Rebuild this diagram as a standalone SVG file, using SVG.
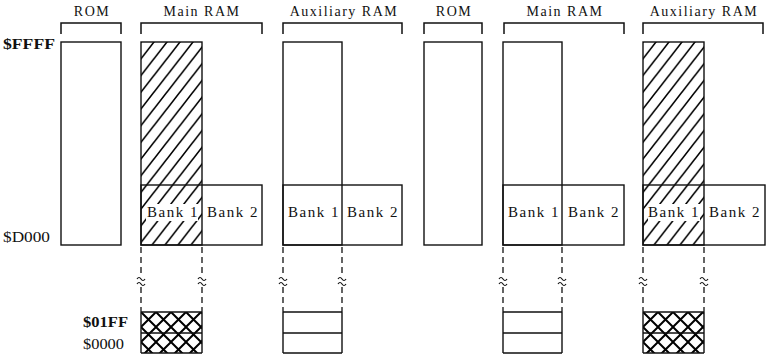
<svg xmlns="http://www.w3.org/2000/svg" width="766" height="356" viewBox="0 0 766 356">
<style>
text{font-family:"Liberation Serif","Times New Roman",serif;fill:#111}
.hd{font-size:14px;letter-spacing:1.5px;text-anchor:middle}
.bk{font-size:15px;letter-spacing:1.5px;text-anchor:middle}
.ad{font-size:14px}
.b{font-weight:bold}
.ln{fill:none;stroke:#111;stroke-width:1.4}
.br{fill:none;stroke:#111;stroke-width:1.5}
.ds{fill:none;stroke:#111;stroke-width:1.3;stroke-dasharray:6 4}
.wv{fill:none;stroke:#111;stroke-width:1.2}
</style>
<defs>
<pattern id="hatch" patternUnits="userSpaceOnUse" x="141" y="42" width="13" height="16.7">
<path d="M-13,16.7 L13,-16.7 M-13,33.4 L26,-16.7 M0,33.4 L26,0" stroke="#000" stroke-width="1.6" fill="none"/>
</pattern>
<pattern id="hatch2" patternUnits="userSpaceOnUse" x="643" y="42" width="13" height="16.7">
<path d="M-13,16.7 L13,-16.7 M-13,33.4 L26,-16.7 M0,33.4 L26,0" stroke="#000" stroke-width="1.6" fill="none"/>
</pattern>
<pattern id="xhatch" patternUnits="userSpaceOnUse" x="141" y="312" width="15" height="15">
<path d="M-15,15 L15,-15 M-15,30 L30,-15 M0,30 L30,0 M-15,0 L15,30 M-15,-15 L30,30 M0,-15 L30,15" stroke="#000" stroke-width="2" fill="none"/>
</pattern>
<pattern id="xhatch2" patternUnits="userSpaceOnUse" x="643" y="312" width="15" height="15">
<path d="M-15,15 L15,-15 M-15,30 L30,-15 M0,30 L30,0 M-15,0 L15,30 M-15,-15 L30,30 M0,-15 L30,15" stroke="#000" stroke-width="2" fill="none"/>
</pattern>
<path id="brk" d="M-4,-2 q2,-3 4,0 t4,0 M-4,3 q2,-3 4,0 t4,0"/>
</defs>

<g id="labels">
<text class="ad b" x="3" y="49" textLength="52" lengthAdjust="spacingAndGlyphs">$FFFF</text>
<text class="ad" x="3" y="242" textLength="47" lengthAdjust="spacingAndGlyphs">$D000</text>
<text class="ad b" x="83" y="327" textLength="45" lengthAdjust="spacingAndGlyphs">$01FF</text>
<text class="ad" x="83" y="349" textLength="41" lengthAdjust="spacingAndGlyphs">$0000</text>
</g>

<g id="rom1">
<text class="hd" x="92" y="16">ROM</text>
<path class="br" d="M61,34 V23 H121 V34"/>
<rect class="ln" x="61" y="42" width="60" height="203" fill="#fff"/>
</g>

<g id="main1">
<text class="hd" x="202" y="16">Main RAM</text>
<path class="br" d="M141,34 V23 H262 V34"/>
<rect x="141" y="42" width="61" height="203" fill="url(#hatch)"/>
<rect x="146" y="204" width="52" height="17" fill="#fff"/>
<rect class="ln" x="141" y="42" width="61" height="203"/>
<rect class="ln" x="141" y="185" width="121" height="60"/>
<text class="bk" x="173" y="217">Bank 1</text>
<text class="bk" x="233" y="217">Bank 2</text>
<rect x="141" y="312" width="61" height="41" fill="url(#xhatch)"/>
<path class="ln" d="M141,312 H202 M141,333 H202 M141,353 H202 M141,312 V353 M202,312 V353" stroke-width="1.8"/>
</g>

<g id="aux1">
<text class="hd" x="344" y="16">Auxiliary RAM</text>
<path class="br" d="M283,34 V23 H402 V34"/>
<rect class="ln" x="283" y="42" width="59" height="203"/>
<rect class="ln" x="283" y="185" width="119" height="60"/>
<text class="bk" x="314" y="217">Bank 1</text>
<text class="bk" x="373" y="217">Bank 2</text>
<path class="ln" d="M283,312 H342 M283,333 H342 M283,353 H342 M283,312 V353 M342,312 V353"/>
</g>

<g id="rom2">
<text class="hd" x="454" y="16">ROM</text>
<path class="br" d="M424,34 V23 H482 V34"/>
<rect class="ln" x="424" y="42" width="58" height="203"/>
</g>

<g id="main2">
<text class="hd" x="565" y="16">Main RAM</text>
<path class="br" d="M504,34 V23 H624 V34"/>
<rect class="ln" x="503" y="42" width="59" height="203"/>
<rect class="ln" x="503" y="185" width="121" height="60"/>
<text class="bk" x="534" y="217">Bank 1</text>
<text class="bk" x="594" y="217">Bank 2</text>
<path class="ln" d="M503,312 H562 M503,333 H562 M503,353 H562 M503,312 V353 M562,312 V353"/>
</g>

<g id="aux2">
<text class="hd" x="704" y="16">Auxiliary RAM</text>
<path class="br" d="M643,34 V23 H763 V34"/>
<rect x="643" y="42" width="61" height="203" fill="url(#hatch2)"/>
<rect x="648" y="204" width="52" height="17" fill="#fff"/>
<rect class="ln" x="643" y="42" width="61" height="203"/>
<rect class="ln" x="643" y="185" width="122" height="60"/>
<text class="bk" x="674" y="217">Bank 1</text>
<text class="bk" x="735" y="217">Bank 2</text>
<rect x="643" y="312" width="61" height="41" fill="url(#xhatch2)"/>
<path class="ln" d="M643,312 H704 M643,333 H704 M643,353 H704 M643,312 V353 M704,312 V353" stroke-width="1.8"/>
</g>

<g id="connectors">
<path class="ds" d="M141,247 V312 M202,247 V312 M283,247 V312 M342,247 V312 M503,247 V312 M562,247 V312 M643,247 V312 M704,247 V312"/>
<g fill="#fff">
<rect x="136" y="276" width="10" height="11"/><rect x="197" y="276" width="10" height="11"/>
<rect x="278" y="276" width="10" height="11"/><rect x="337" y="276" width="10" height="11"/>
<rect x="498" y="276" width="10" height="11"/><rect x="557" y="276" width="10" height="11"/>
<rect x="638" y="276" width="10" height="11"/><rect x="699" y="276" width="10" height="11"/>
</g>
<g class="wv">
<use href="#brk" x="141" y="281"/><use href="#brk" x="202" y="281"/>
<use href="#brk" x="283" y="281"/><use href="#brk" x="342" y="281"/>
<use href="#brk" x="503" y="281"/><use href="#brk" x="562" y="281"/>
<use href="#brk" x="643" y="281"/><use href="#brk" x="704" y="281"/>
</g>
</g>
</svg>
